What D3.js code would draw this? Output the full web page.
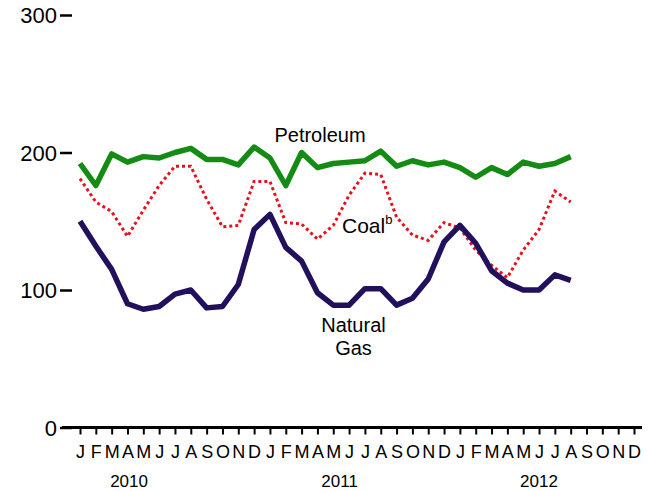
<!DOCTYPE html>
<html><head><meta charset="utf-8">
<script src="https://cdn.jsdelivr.net/npm/d3@7"></script>
<style>
html,body{margin:0;padding:0;background:#fff;}
svg{display:block;font-family:"Liberation Sans",Arial,sans-serif;}
</style></head>
<body>
<svg id="chart" width="649" height="491"></svg>
<script>
const monthLabels = ["J","F","M","A","M","J","J","A","S","O","N","D",
  "J","F","M","A","M","J","J","A","S","O","N","D",
  "J","F","M","A","M","J","J","A","S","O","N","D"];
const yearLabels = ["2010","2011","2012"];
const yearPositions = [3.1, 16.4, 29.0];
const yTicks = [0,100,200,300];

const petroleum = [192,176,199,193,197,196,200,203,195,195,191,204,
  196,176,200,189,192,193,194,201,190,194,191,193,189,182,189,184,193,190,192,197];
const coal = [181,164,157,139,158,176,190,190,166,146,147,179,
  179,149,148,137,147,169,185,184,153,140,136,149,145,129,118,109,129,144,172,164];
const naturalGas = [150,132,115,90,86,88,97,100,87,88,104,144,
  155,131,121,98,89,89,101,101,89,94,108,135,147,134,114,105,100,100,111,107];

const svg = d3.select("#chart");
const x = d3.scaleLinear().domain([0,35]).range([80,634]);
const y = d3.scaleLinear().domain([0,300]).range([427.5,15]);

// x axis baseline
svg.append("line").attr("x1",62).attr("x2",642).attr("y1",y(0)).attr("y2",y(0))
  .attr("stroke","#000").attr("stroke-width",3);

const xAxis = d3.axisBottom(x).tickValues(d3.range(36))
  .tickFormat(i => monthLabels[i]).tickSize(7).tickSizeOuter(0);
const gx = svg.append("g").attr("transform",`translate(0,${y(0)})`).call(xAxis);
gx.select(".domain").remove();
gx.selectAll(".tick line").attr("stroke","#000").attr("stroke-width",2);
gx.selectAll(".tick text").attr("y",30).attr("dy",0)
  .attr("font-size",18).attr("fill","#000").attr("font-family",null);

svg.append("g").selectAll("text").data(yearLabels).join("text")
  .attr("x",(d,i)=>x(yearPositions[i])).attr("y",487)
  .attr("text-anchor","middle").attr("font-size",17).text(d=>d);

const yAxis = d3.axisLeft(y).tickValues(yTicks).tickSize(12).tickPadding(3).tickFormat(d3.format("d"));
const gy = svg.append("g").attr("transform","translate(72,0)").call(yAxis);
gy.select(".domain").remove();
gy.selectAll(".tick line").attr("stroke","#000").attr("stroke-width",2.5);
gy.selectAll(".tick text").attr("font-size",22).attr("fill","#000").attr("font-family",null).attr("dy","0.36em");

const line = d3.line().x((d,i)=>x(i)).y(d=>y(d));

svg.append("path").datum(coal).attr("d",line).attr("fill","none")
  .attr("stroke","#e8101c").attr("stroke-width",3).attr("stroke-dasharray","3,3");
svg.append("path").datum(naturalGas).attr("d",line).attr("fill","none")
  .attr("stroke","#22105c").attr("stroke-width",5.5).attr("stroke-linejoin","round");
svg.append("path").datum(petroleum).attr("d",line).attr("fill","none")
  .attr("stroke","#148c14").attr("stroke-width",5.5).attr("stroke-linejoin","round");

svg.append("text").attr("x",320).attr("y",141.5).attr("text-anchor","middle")
  .attr("font-size",20).text("Petroleum");
const ct = svg.append("text").attr("x",342).attr("y",233).attr("font-size",21);
ct.append("tspan").text("Coal");
ct.append("tspan").attr("font-size",13).attr("dy",-9).text("b");
svg.append("text").attr("x",353.5).attr("y",331.5).attr("text-anchor","middle")
  .attr("font-size",20).text("Natural");
svg.append("text").attr("x",353.5).attr("y",355).attr("text-anchor","middle")
  .attr("font-size",20).text("Gas");
</script>
</body></html>
